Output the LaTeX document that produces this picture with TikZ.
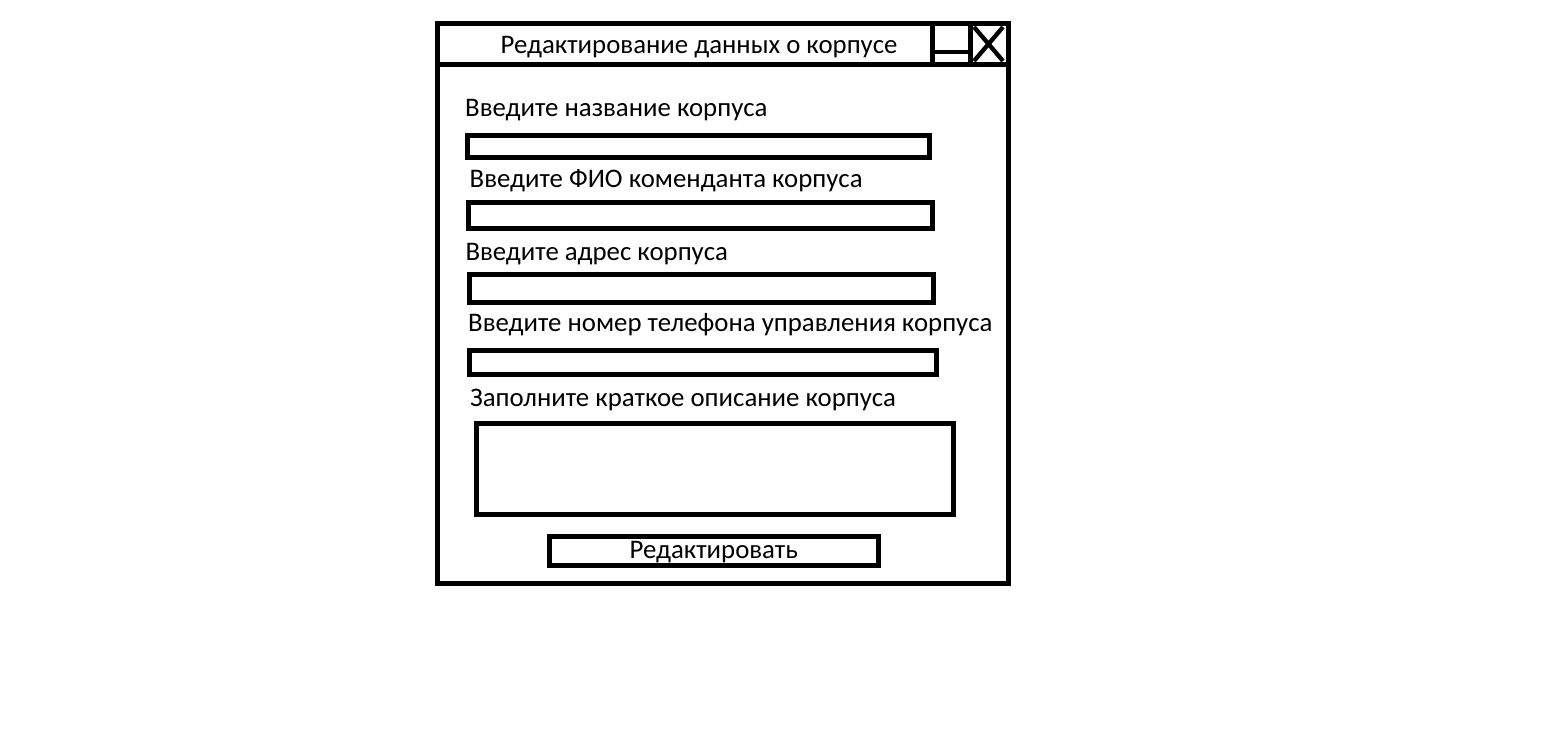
\documentclass[tikz,border=0pt]{standalone}
\usepackage{fontspec}
\setmainfont{Carlito}
\begin{document}
\begin{tikzpicture}[x=1pt,y=-1pt,
  frame/.style={draw=black,line width=5pt},
  field/.style={draw=black,line width=5pt,fill=white,inner sep=0pt},
  lbl/.style={anchor=base west,inner sep=0pt,font=\fontsize{26.8}{32}\selectfont},
  ttl/.style={anchor=base,inner sep=0pt,font=\fontsize{26.8}{32}\selectfont},
  btn/.style={draw=black,line width=5pt,inner sep=0pt,font=\fontsize{26.8}{32}\selectfont,text height=16pt,text depth=2pt}]
\useasboundingbox (0,0) rectangle (1565,742);
% window
\node[frame,inner sep=0pt,minimum width=570.5pt,minimum height=560pt] (win) at (722.75,303) {};
\coordinate (tbl) at (437.5,64.5);
\coordinate (tbr) at (1009,64.5);
\draw[frame] (tbl) -- (tbr);
\node[frame,inner sep=0pt,minimum width=38pt,minimum height=41.5pt] (minb) at (951,43.75) {};
\node[frame,inner sep=0pt,minimum width=38pt,minimum height=41.5pt] (closeb) at (989,43.75) {};
\coordinate (m1) at (932,52);
\coordinate (m2) at (970,52);
\draw[line width=4.5pt] (m1) -- (m2);
\coordinate (x1) at (974,27);
\coordinate (x2) at (1003,61);
\coordinate (x3) at (1003,27);
\coordinate (x4) at (974,61);
\draw[line width=4.3pt] (x1) -- (x2) (x3) -- (x4);
\node[ttl] (title) at (699,53) {Редактирование данных о корпусе};
% labels and fields
\node[lbl] (l1) at (465,116.5) {Введите название корпуса};
\node[field,minimum width=462pt,minimum height=22pt] (f1) at (698.5,146.5) {};
\node[lbl] (l2) at (469.5,187.3) {Введите ФИО коменданта корпуса};
\node[field,minimum width=464pt,minimum height=26pt] (f2) at (700.5,215.5) {};
\node[lbl] (l3) at (465.3,260) {Введите адрес корпуса};
\node[field,minimum width=464.5pt,minimum height=28pt] (f3) at (701.25,288) {};
\node[lbl] (l4) at (468,331.7) {Введите номер телефона управления корпуса};
\node[field,minimum width=466.5pt,minimum height=24pt] (f4) at (702.75,362.5) {};
\node[lbl] (l5) at (470,406.5) {Заполните краткое описание корпуса};
\node[field,minimum width=476.5pt,minimum height=91pt] (ta) at (714.75,469) {};
\node[btn,minimum width=328.5pt,minimum height=29pt] (ok) at (713.75,551) {Редактировать};
\end{tikzpicture}
\end{document}
